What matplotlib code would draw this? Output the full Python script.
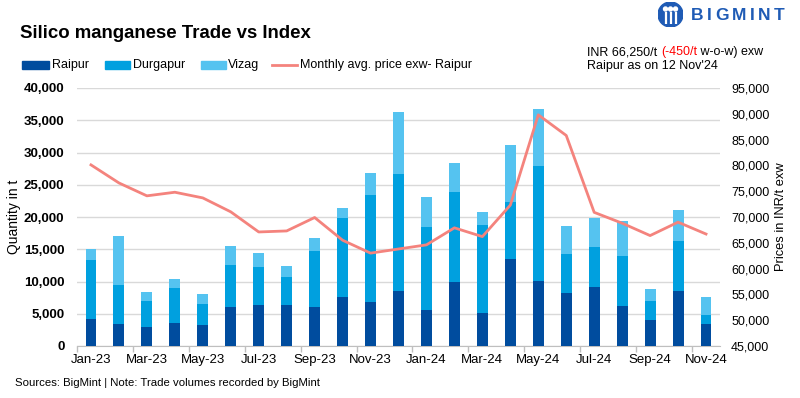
import matplotlib
matplotlib.use("Agg")
import matplotlib.pyplot as plt
import numpy as np
from matplotlib.patches import Circle, Rectangle
from matplotlib.lines import Line2D

plt.rcParams['font.family'] = ['Liberation Sans', 'DejaVu Sans']

months = ["Jan-23", "Feb-23", "Mar-23", "Apr-23", "May-23", "Jun-23", "Jul-23", "Aug-23",
          "Sep-23", "Oct-23", "Nov-23", "Dec-23", "Jan-24", "Feb-24", "Mar-24", "Apr-24",
          "May-24", "Jun-24", "Jul-24", "Aug-24", "Sep-24", "Oct-24", "Nov-24"]
raipur = [4200, 3400, 2950, 3550, 3250, 6050, 6350, 6350, 6050, 7600, 6800, 8500,
          5600, 9900, 5100, 13500, 10100, 8200, 9150, 6200, 4030, 8530, 3400]
durgapur = [9100, 6050, 4030, 5450, 3250, 6500, 5900, 4350, 8650, 12200, 16600, 18200,
            12850, 14000, 13700, 8800, 17800, 6100, 6200, 7750, 2950, 7770, 1400]
vizag = [1700, 7600, 1400, 1400, 1550, 2950, 2150, 1700, 2000, 1600, 3400, 9600,
         4650, 4500, 2000, 8900, 8800, 4300, 4450, 5450, 1860, 4800, 2800]
price = [80100, 76600, 74100, 74800, 73700, 71000, 67100, 67300, 69900, 65500, 63000, 63800,
         64600, 67900, 66200, 72300, 89800, 85800, 70900, 68800, 66400, 69000, 66700]
series_names = ["Raipur", "Durgapur", "Vizag", "Monthly avg. price exw- Raipur"]

c_raipur = "#004C9E"
c_durg = "#00A0DF"
c_vizag = "#55C3F0"
c_line = "#F4837D"
c_logo = "#1F5BB5"

W, H = 800, 398
fig = plt.figure(figsize=(W/100, H/100), dpi=100)

def fx(px):
    return px / W

def fy(py):
    return 1 - py / H

ax = fig.add_axes([fx(77), fy(346), (720-77)/W, (346-88)/H])
ax2 = ax.twinx()

x = np.arange(len(months))
w = 0.39
r = np.array(raipur); d = np.array(durgapur); v = np.array(vizag)
ax.bar(x, r, w, color=c_raipur, zorder=3)
ax.bar(x, d, w, bottom=r, color=c_durg, zorder=3)
ax.bar(x, v, w, bottom=r + d, color=c_vizag, zorder=3)
ax2.plot(x, price, color=c_line, lw=2, zorder=4)

ax.set_xlim(-0.5, len(months) - 0.5)
ax.set_ylim(0, 40000)
ax.set_yticks(np.arange(0, 40001, 5000))
ax.set_yticklabels([f"{t:,}" for t in range(0, 40001, 5000)], fontweight='bold', fontsize=9.5)
ax.yaxis.grid(True, color="#D9D9D9", lw=1, zorder=0)
ax.set_axisbelow(True)
ax.tick_params(axis='y', length=0, pad=9, colors="#000000")

ax.set_xticks(x[::2])
ax.set_xticklabels(months[::2], fontsize=9.5)
ax.set_xticks(np.arange(-0.5, len(months), 2), minor=True)
ax.tick_params(axis='x', which='major', length=0, pad=6)
ax.tick_params(axis='x', which='minor', length=4, color="#BFBFBF", width=1)

ax2.set_ylim(45000, 95000)
ax2.set_yticks(np.arange(45000, 95001, 5000))
ax2.set_yticklabels([f"{t:,}" for t in range(45000, 95001, 5000)], fontsize=9)
ax2.tick_params(axis='y', length=0, pad=8)

for a in (ax, ax2):
    for s in ("top", "left", "right"):
        a.spines[s].set_visible(False)
    a.spines["bottom"].set_color("#BFBFBF")
ax2.spines["bottom"].set_visible(False)

ax.set_ylabel("Quantity in t", fontsize=10, labelpad=2)
ax2.set_ylabel("Prices in INR/t exw", fontsize=9.3, labelpad=4)

# title
fig.text(fx(20), fy(33), "Silico manganese Trade vs Index", fontsize=13.4, fontweight='bold',
         va='center', ha='left')

# legend (manual)
leg_y = 65
patch_spec = [(22, 49, c_raipur, 52), (105, 130, c_durg, 133), (201, 226, c_vizag, 228)]
for (x0, x1, col, tx), name in zip(patch_spec, series_names[:3]):
    fig.patches.append(Rectangle((fx(x0), fy(leg_y + 3.5)), (x1 - x0)/W, 7/H,
                                 transform=fig.transFigure, color=col, figure=fig))
    fig.text(fx(tx), fy(leg_y), name, fontsize=9, va='center', ha='left')
fig.lines.append(Line2D([fx(272), fx(297)], [fy(leg_y), fy(leg_y)], color=c_line, lw=2,
                        transform=fig.transFigure, figure=fig))
fig.text(fx(300), fy(leg_y), series_names[3], fontsize=9, va='center', ha='left')

# annotation with colored part
fig.canvas.draw()
renderer = fig.canvas.get_renderer()
parts = [("INR 66,250/t ", "black"), ("(-450/t", "#FF0000"), (" w-o-w) exw", "black")]
xpos = fx(587)
for txt, col in parts:
    t = fig.text(xpos, fy(52.5), txt, fontsize=9, color=col, va='center', ha='left')
    bb = t.get_window_extent(renderer)
    xpos = bb.x1 / fig.bbox.width
fig.text(fx(587), fy(65.5), "Raipur as on 12 Nov'24", fontsize=9, va='center', ha='left')

# logo
lax = fig.add_axes([fx(658), fy(27), 25/W, 25/H])
lax.set_xlim(0, 1); lax.set_ylim(0, 1)
lax.axis('off')
lax.add_patch(Circle((0.5, 0.5), 0.5, color=c_logo))
for cx in (0.3, 0.5, 0.7):
    lax.add_patch(Circle((cx, 0.72), 0.08, color="white"))
    lax.plot([cx, cx], [0.12, 0.6], color="white", lw=1.6, solid_capstyle='butt')
lx = 691
for ch in "BIGMINT":
    t = fig.text(fx(lx), fy(15.5), ch, fontsize=12.5, fontweight='bold', color=c_logo,
                 va='center', ha='left')
    bb = t.get_window_extent(renderer)
    lx = bb.x1 + 3.4

fig.text(fx(15), fy(383), "Sources: BigMint | Note: Trade volumes recorded by BigMint",
         fontsize=8.2, va='center', ha='left')

fig.savefig("out.png", dpi=100)
